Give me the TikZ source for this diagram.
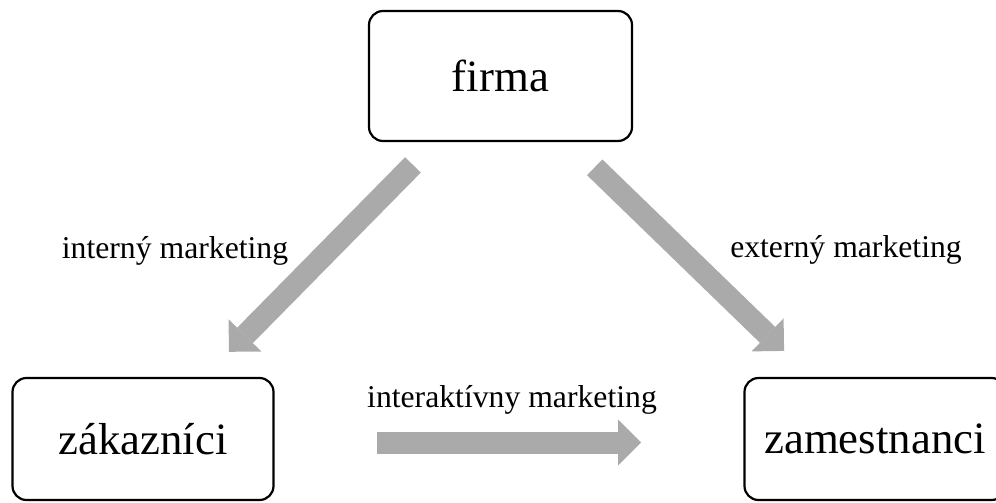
\documentclass[tikz,border=0pt]{standalone}
\usepackage{fontspec}
\setmainfont{Liberation Serif}
\usepackage{xcolor}
\usepackage{tikz}
\usetikzlibrary{arrows.meta,positioning}

\definecolor{arrowgray}{HTML}{AAAAAA}

\begin{document}
\begin{tikzpicture}[x=0.5pt,y=-0.5pt,on grid,
            thick,main node/.style={rectangle,draw,rounded corners=7pt,line width=1.1pt,
            font=\fontsize{22.4pt}{26pt}\selectfont,minimum width=130.5pt,minimum height=61pt},
            label node/.style={inner sep=0pt,anchor=base,font=\fontsize{15.85pt}{19pt}\selectfont},
            block arrow/.style={draw=arrowgray,line width=11pt,
            -{Triangle[length=11.5pt,width=23pt,line width=0pt]}}]

            \useasboundingbox (0,0) rectangle (996,503);
            \clip (0,0) rectangle (996,503);

            \node[main node,minimum width=131.5pt,minimum height=65pt] (Firma) at (500.5,76) {firma};

            \node[main node] (Zakaznici) [below left=181.5pt and 178.75pt of Firma] {zákazníci};
            \node[main node] (Zamestnanci) [right=366pt of Zakaznici] {zamestnanci};

            \node[label node] (InternyLabel) at (175,258) {interný marketing};
            \node[label node] (ExternyLabel) at (846,257) {externý marketing};
            \node[label node] (InterakLabel) at (512,407) {interaktívny marketing};

            \draw [block arrow,shorten <=62.4pt,shorten >=61.2pt] (Firma.center) -- (Zakaznici.center);
            \draw [block arrow,shorten <=65.6pt,shorten >=63.3pt] (Firma.center) -- (Zamestnanci.center);

            \draw [block arrow,shorten <=117pt,shorten >=117pt]
                ([yshift=-1.75pt]Zakaznici.center) -- ([yshift=-1.75pt]Zamestnanci.center);
          \end{tikzpicture}
\end{document}
